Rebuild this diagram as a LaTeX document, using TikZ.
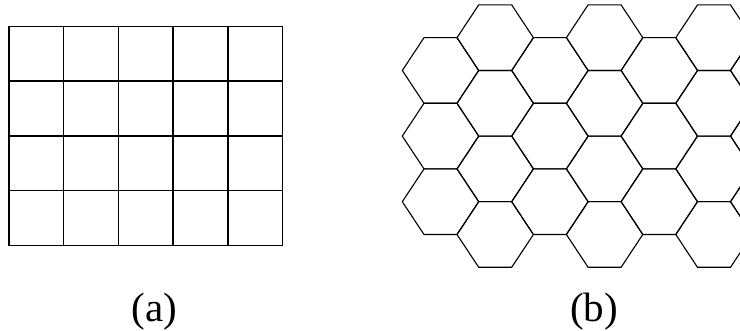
\documentclass[tikz,border=0pt]{standalone}
\usepackage{fontspec}
\setmainfont{Liberation Serif}
\begin{document}
\begin{tikzpicture}[x=1pt, y=1pt,
        cella/.style={line width=1.5pt, black, line cap=rect},
        esagono/.style={line width=1.1pt, black, line join=miter},
        didascalia/.style={anchor=base, inner sep=0pt, font=\rmfamily\fontsize{41}{41}\selectfont}]
        \useasboundingbox (0,0) rectangle (740,331);
        \clip (0,0) rectangle (740,331);

        % --- Sottofigura (a): griglia quadrata ---
        \begin{scope}[shift={(9,85.7)}]
            % Linee verticali
            \foreach \i in {0,...,5}
                \draw[cella] (\i*54.7,0) -- (\i*54.7,218.8);
            % Linee orizzontali
            \foreach \j in {0,...,4}
                \draw[cella] (0,\j*54.7) -- (273.5,\j*54.7);
        \end{scope}
        \node[didascalia] (lbla) at (154.2,9) {(a)};

        % --- Sottofigura (b): griglia esagonale ---
        \begin{scope}[shift={(402.3,0)}]
            % Colonne pari: 3 esagoni, colonne dispari: 4 esagoni
            \foreach \c/\yo/\nmax in {0/260.5/2, 1/293.3/3, 2/260.5/2, 3/293.3/3,
                                      4/260.5/2, 5/293.3/3, 6/260.5/2}
                \foreach \r in {0,...,\nmax}
                    \draw[esagono, shift={(\c*54.7+38.2,\yo-\r*65.6)}]
                        (-38.2,0) -- (-16.5,32.8) -- (16.5,32.8) -- (38.2,0)
                        -- (16.5,-32.8) -- (-16.5,-32.8) -- cycle;
        \end{scope}
        \node[didascalia] (lblb) at (594,9) {(b)};
    \end{tikzpicture}
\end{document}
